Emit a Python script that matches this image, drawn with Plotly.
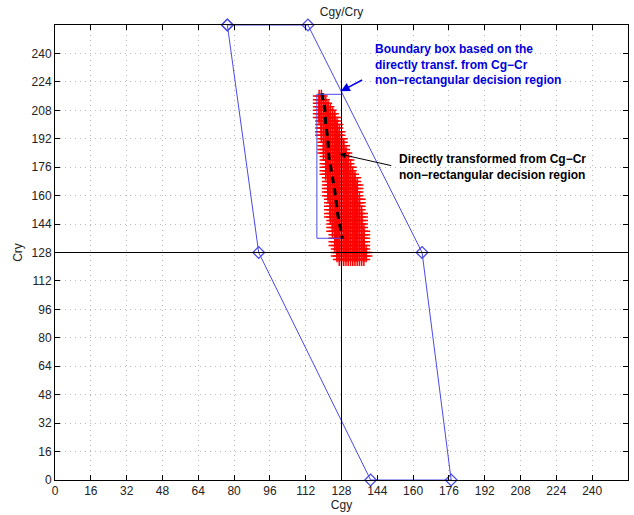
import plotly.graph_objects as go

# ---------------- data ----------------
# Boundary polygon (Cgy, Cry) vertices
POLY_CGY = [77, 113, 164, 177, 141, 91, 77]
POLY_CRY = [256, 256, 128, 0, 0, 128, 256]

# Boundary box of the directly transformed region
BOX_CGY = [117, 128, 128, 117, 117]
BOX_CRY = [217, 217, 136, 136, 217]

# Directly transformed region: rows of Cry with Cgy extent
CRY_ROWS = [216, 214, 212, 210, 208, 206, 204, 202, 200, 198, 196, 194, 192, 190,
            188, 186, 184, 182, 180, 178, 176, 174, 172, 170, 168, 166, 164, 162,
            160, 158, 156, 154, 152, 150, 148, 146, 144, 142, 140, 138, 136, 134,
            132, 130, 128, 126, 124]
CGY_MIN = [118, 118, 118, 118, 118, 118, 118, 119, 119, 119, 119, 119, 120, 120,
           120, 120, 120, 121, 121, 121, 121, 121, 121, 122, 122, 122, 122, 122,
           122, 123, 123, 123, 123, 123, 123, 124, 124, 124, 124, 125, 125, 125,
           125, 126, 126, 126, 127]
CGY_MAX = [119, 120, 121, 122, 123, 124, 125, 125, 126, 126, 127, 127, 128, 128,
           129, 129, 130, 130, 131, 131, 132, 132, 133, 134, 134, 135, 135, 135,
           135, 136, 136, 136, 136, 137, 137, 137, 137, 137, 138, 138, 138, 138,
           138, 138, 139, 139, 138]

# Black curve (directly transformed boundary)
CURVE_CGY = [119.2, 120.5, 121.0, 121.9, 122.3, 123.7, 125.0, 126.3, 127.7, 128.4]
CURVE_CRY = [217.6, 209.2, 199.1, 192.4, 182.3, 172.2, 162.6, 149.7, 139.1, 135.7]

TICKS = list(range(0, 241, 16))
AXIS_RANGE = [0, 256]
CENTER = 128

# ---------------- build ----------------
red_x, red_y = [], []
for cy, lo, hi in zip(CRY_ROWS, CGY_MIN, CGY_MAX):
    for cx in range(lo, hi + 1):
        red_x.append(cx)
        red_y.append(cy)

BLUE = "#4a4ae6"
FONT = "Liberation Sans, Arial"
fig = go.Figure()

fig.add_trace(go.Scatter(
    x=red_x, y=red_y, mode="markers",
    marker=dict(symbol="cross-thin", size=9, line=dict(color="red", width=1.5), color="red"),
    hoverinfo="skip", showlegend=False))

fig.add_trace(go.Scatter(
    x=CURVE_CGY, y=CURVE_CRY, mode="lines",
    line=dict(color="black", width=3, dash="7px,5px"),
    showlegend=False))

fig.add_trace(go.Scatter(
    x=BOX_CGY, y=BOX_CRY, mode="lines",
    line=dict(color=BLUE, width=1), showlegend=False))

fig.add_trace(go.Scatter(
    x=POLY_CGY, y=POLY_CRY, mode="lines+markers",
    line=dict(color=BLUE, width=1),
    marker=dict(symbol="diamond-open", size=9, color=BLUE, line=dict(width=1.3)),
    cliponaxis=False, showlegend=False))

# crosshair lines
fig.add_shape(type="line", x0=CENTER, x1=CENTER, y0=AXIS_RANGE[0], y1=AXIS_RANGE[1],
              line=dict(color="black", width=1), layer="above")
fig.add_shape(type="line", x0=AXIS_RANGE[0], x1=AXIS_RANGE[1], y0=CENTER, y1=CENTER,
              line=dict(color="black", width=1), layer="above")

# annotations
fig.add_annotation(x=127.7, y=218.7, ax=137.9, ay=225.5, xref="x", yref="y",
                   axref="x", ayref="y", text="", showarrow=True,
                   arrowhead=2, arrowsize=1.2, arrowwidth=1.5, arrowcolor="#0000ee")
fig.add_annotation(x=127.2, y=183.4, ax=150.9, ay=176.7, xref="x", yref="y",
                   axref="x", ayref="y", text="", showarrow=True,
                   arrowhead=2, arrowsize=1.2, arrowwidth=1, arrowcolor="black")
fig.add_annotation(x=142, y=233.9, xref="x", yref="y", xanchor="left", yanchor="middle",
                   text="<b>Boundary box based on the<br>directly transf. from Cg\u2212Cr<br>non\u2212rectangular decision region</b>",
                   showarrow=False, align="left",
                   font=dict(family=FONT, size=12, color="#0000dd"))
fig.add_annotation(x=152.7, y=176.1, xref="x", yref="y", xanchor="left", yanchor="middle",
                   text="<b>Directly transformed from Cg\u2212Cr<br>non\u2212rectangular decision region</b>",
                   showarrow=False, align="left",
                   font=dict(family=FONT, size=12, color="black"))

axis_common = dict(
    range=AXIS_RANGE, tickvals=TICKS, ticktext=[str(t) for t in TICKS],
    ticks="inside", ticklen=5, tickcolor="black",
    showline=True, linecolor="black", linewidth=1, mirror="ticks",
    showgrid=True, gridcolor="#b8b8b8", griddash="1px,4px", gridwidth=1,
    zeroline=False, tickfont=dict(family=FONT, size=12, color="#222"),
)

fig.update_layout(
    width=634, height=515,
    margin=dict(l=55, r=6, t=25, b=35, autoexpand=False),
    paper_bgcolor="white", plot_bgcolor="white",
    title=dict(text="Cgy/Cry", x=(55 + 628) / 2 / 634, xanchor="center", y=1 - 12 / 515,
               yanchor="middle", font=dict(family=FONT, size=12, color="#222")),
    xaxis=dict(axis_common, title=dict(text="Cgy", standoff=2,
               font=dict(family=FONT, size=12, color="#222"))),
    yaxis=dict(axis_common, title=dict(text="Cry", standoff=6,
               font=dict(family=FONT, size=12, color="#222"))),
    showlegend=False,
)

fig.write_html("out.html", config={"displayModeBar": False},
               post_script="document.body.style.margin='0px';")
